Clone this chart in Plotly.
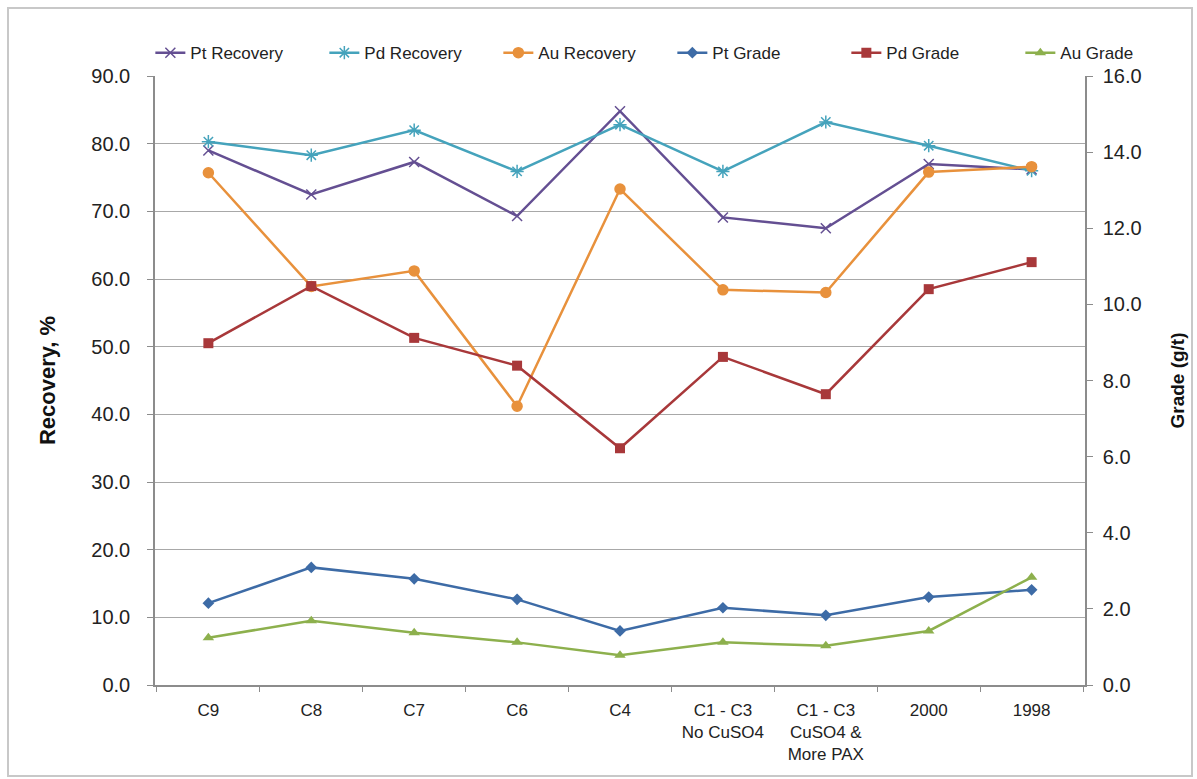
import plotly.graph_objects as go

# Test categories (multi-line labels use <br>)
categories = ["C9", "C8", "C7", "C6", "C4",
              "C1 - C3<br>No CuSO4", "C1 - C3<br>CuSO4 &<br>More PAX",
              "2000", "1998"]

# Recovery, % (left axis)
pt_recovery = [79.0, 72.5, 77.3, 69.3, 84.8, 69.1, 67.5, 77.0, 76.2]
pd_recovery = [80.3, 78.3, 82.0, 75.9, 82.8, 75.9, 83.2, 79.7, 76.0]
au_recovery = [75.7, 58.9, 61.2, 41.2, 73.3, 58.4, 58.0, 75.8, 76.6]

# Grade, g/t (right axis)
pt_grade = [2.15, 3.09, 2.79, 2.25, 1.42, 2.03, 1.83, 2.31, 2.50]
pd_grade = [8.98, 10.48, 9.12, 8.39, 6.22, 8.62, 7.64, 10.40, 11.11]
au_grade = [1.24, 1.69, 1.37, 1.12, 0.78, 1.12, 1.03, 1.42, 2.83]

y_left_ticks = [0, 10, 20, 30, 40, 50, 60, 70, 80, 90]
y_right_ticks = [0, 2, 4, 6, 8, 10, 12, 14, 16]

FONT = "Liberation Sans, Arial, sans-serif"

fig = go.Figure()

recovery_series = [
    ("Pt Recovery", pt_recovery, "#644F92", "x-thin-open", 10),
    ("Pd Recovery", pd_recovery, "#45A3BC", "asterisk-open", 11),
    ("Au Recovery", au_recovery, "#E8913C", "circle", 10),
]
grade_series = [
    ("Pt Grade", pt_grade, "#3D6BA6", "diamond", 9),
    ("Pd Grade", pd_grade, "#A8383A", "square", 10),
    ("Au Grade", au_grade, "#8DB04D", "triangle-up", 10),
]

for name, vals, color, sym, size in recovery_series:
    fig.add_trace(go.Scatter(
        x=categories, y=vals, name=name, mode="lines+markers",
        line=dict(color=color, width=2.5),
        marker=dict(symbol=sym, size=size, color=color,
                    line=dict(color=color, width=1.5)),
        yaxis="y",
    ))

for name, vals, color, sym, size in grade_series:
    fig.add_trace(go.Scatter(
        x=categories, y=vals, name=name, mode="lines+markers",
        line=dict(color=color, width=2.5),
        marker=dict(symbol=sym, size=size, color=color),
        yaxis="y2",
    ))

fig.update_layout(
    width=1197, height=779,
    margin=dict(l=155, r=112, t=76, b=94),
    paper_bgcolor="white", plot_bgcolor="white",
    font=dict(family=FONT, color="#222222"),
    showlegend=True,
    legend=dict(orientation="h", x=-0.005, y=1.008, xanchor="left", yanchor="bottom",
                font=dict(size=17, family=FONT, color="#222222"),
                itemwidth=30, entrywidth=129, entrywidthmode="pixels",
                tracegroupgap=0, traceorder="normal",
                bgcolor="rgba(0,0,0,0)"),
    xaxis=dict(
        type="category", showgrid=False, showline=True, linecolor="#8c8c8c",
        linewidth=1.5, ticks="outside", ticklen=5, tickcolor="#8c8c8c",
        tickson="boundaries", tickfont=dict(size=17, family=FONT, color="#222222"),
        ticklabelstandoff=9, automargin=False,
        zeroline=False, mirror=False,
    ),
    yaxis=dict(
        range=[0, 90], tickvals=y_left_ticks, tickformat=".1f",
        showgrid=True, gridcolor="#a8a8a8", gridwidth=1,
        showline=True, linecolor="#8c8c8c", linewidth=1.5,
        ticks="outside", ticklen=6, tickcolor="#8c8c8c",
        ticklabelstandoff=13, automargin=False,
        tickfont=dict(size=20, family=FONT, color="#222222"),
        title=dict(text="<b>Recovery, %</b>", font=dict(size=22, family=FONT, color="#111111"),
                   standoff=30),
        zeroline=False,
    ),
    yaxis2=dict(
        range=[0, 16], tickvals=y_right_ticks, tickformat=".1f",
        overlaying="y", side="right", showgrid=False,
        showline=True, linecolor="#8c8c8c", linewidth=1.5,
        ticks="outside", ticklen=6, tickcolor="#8c8c8c",
        ticklabelstandoff=6, automargin=False,
        tickfont=dict(size=20, family=FONT, color="#222222"),
        title=dict(text="<b>Grade (g/t)</b>", font=dict(size=19, family=FONT, color="#111111"),
                   standoff=30),
        zeroline=False,
    ),
)

# Outer frame around the whole chart
fig.add_shape(type="rect", xref="paper", yref="paper",
              x0=(8 - 155) / 930, x1=(1192 - 155) / 930,
              y0=(685 - 776) / 609, y1=(685 - 8) / 609,
              line=dict(color="#c8c8c8", width=2), fillcolor="rgba(0,0,0,0)",
              layer="below")

fig.write_html("out.html")
